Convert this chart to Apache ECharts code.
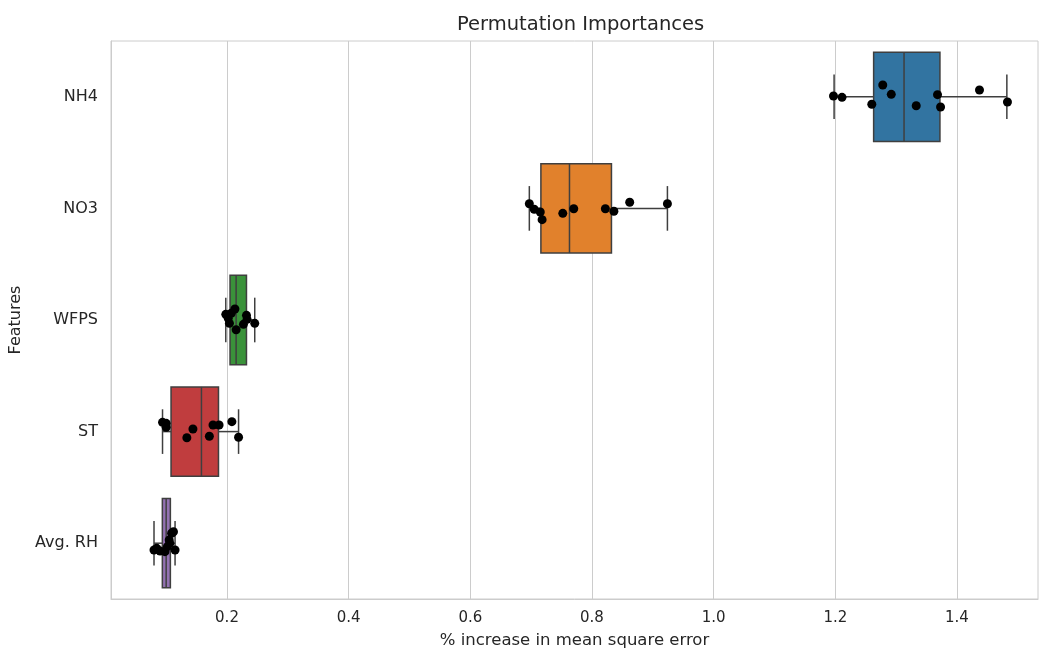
<!DOCTYPE html>
<html>
<head>
<meta charset="utf-8">
<script src="https://cdn.jsdelivr.net/npm/echarts@6/dist/echarts.min.js"></script>
<style>
	html, body { margin: 0; padding: 0; background: #ffffff; }
	#chart { width: 1039px; height: 651px; }
</style>
</head>
<body>
<div id="chart"></div>
<script>
	// 特征名称（自上而下）
	var features = ["NH4", "NO3", "WFPS", "ST", "Avg. RH"];

	// 箱线图统计值：[下须, Q1, 中位数, Q3, 上须]
	var boxNH4 = [1.198, 1.263, 1.313, 1.372, 1.482];
	var boxNO3 = [0.697, 0.716, 0.763, 0.832, 0.924];
	var boxWFPS = [0.198, 0.205, 0.215, 0.232, 0.2456];
	var boxST = [0.094, 0.108, 0.158, 0.186, 0.219];
	var boxRH = [0.080, 0.0937, 0.100, 0.1069, 0.1146];

	// 各次置换的重要性取值
	var ptsNH4 = [1.197, 1.211, 1.260, 1.278, 1.292, 1.333, 1.368, 1.373, 1.437, 1.483];
	var ptsNO3 = [0.697, 0.705, 0.715, 0.718, 0.752, 0.770, 0.822, 0.836, 0.862, 0.924];
	var ptsWFPS = [0.198, 0.202, 0.204, 0.207, 0.213, 0.215, 0.227, 0.232, 0.233, 0.2456];
	var ptsST = [0.094, 0.100, 0.100, 0.134, 0.144, 0.171, 0.177, 0.187, 0.208, 0.219];
	var ptsRH = [0.080, 0.0845, 0.090, 0.098, 0.102, 0.105, 0.106, 0.109, 0.112, 0.1146];

	// 散点的纵向抖动（类别单位）
	var jitNH4 = [-0.007, 0.005, 0.067, -0.106, -0.022, 0.080, -0.019, 0.091, -0.061, 0.047];
	var jitNO3 = [-0.042, 0.008, 0.032, 0.101, 0.044, 0.003, 0.003, 0.026, -0.055, -0.042];
	var jitWFPS = [-0.051, -0.015, 0.030, -0.060, -0.099, 0.087, 0.039, -0.042, -0.006, 0.030];
	var jitST = [-0.083, -0.074, -0.039, 0.055, -0.023, 0.042, -0.059, -0.059, -0.089, 0.051];
	var jitRH = [0.061, 0.046, 0.070, 0.076, 0.031, -0.029, 0.001, -0.089, -0.103, 0.061];

	var xTicks = [0.2, 0.4, 0.6, 0.8, 1.0, 1.2, 1.4];

	var boxColors = ["#3274a1", "#e1812c", "#3a923a", "#c03d3e", "#9372b2"];
	var edgeColor = "#3f3f3f";
	var textColor = "#262626";
	var gridColor = "#cccccc";

	var boxStats = [boxNH4, boxNO3, boxWFPS, boxST, boxRH];
	var points = [ptsNH4, ptsNO3, ptsWFPS, ptsST, ptsRH];
	var jitters = [jitNH4, jitNO3, jitWFPS, jitST, jitRH];

	var boxData = [];
	for(var i=0; i<boxStats.length; i++)
		boxData.push([i].concat(boxStats[i]));

	var pointData = [];
	for(var i=0; i<points.length; i++)
	{
		for(var j=0; j<points[i].length; j++)
			pointData.push([points[i][j], i + jitters[i][j]]);
	}

	var renderBox = function(params, api)
	{
		var idx = api.value(0);
		var lo = api.value(1), q1 = api.value(2), med = api.value(3), q3 = api.value(4), hi = api.value(5);
		var c = function(v, off) { return api.coord([v, idx + off]); };
		var lineStyle = { stroke: edgeColor, lineWidth: 1.5 };

		var a = c(q1, -0.4), b = c(q3, 0.4);
		var children = [];

		var line = function(p1, p2)
		{
			children.push({
				type: "line",
				shape: { x1: p1[0], y1: p1[1], x2: p2[0], y2: p2[1] },
				style: lineStyle
			});
		};

		line(c(lo, 0), c(q1, 0));
		line(c(q3, 0), c(hi, 0));
		line(c(lo, -0.2), c(lo, 0.2));
		line(c(hi, -0.2), c(hi, 0.2));

		children.push({
			type: "rect",
			shape: {
				x: Math.min(a[0], b[0]), y: Math.min(a[1], b[1]),
				width: Math.abs(b[0] - a[0]), height: Math.abs(b[1] - a[1])
			},
			style: { fill: boxColors[idx], stroke: edgeColor, lineWidth: 1.5 }
		});

		line(c(med, -0.4), c(med, 0.4));

		return { type: "group", children: children };
	};

	var chart = echarts.init(document.getElementById("chart"));

	chart.setOption({
		animation: false,
		backgroundColor: "#ffffff",
		textStyle: { fontFamily: "DejaVu Sans", color: textColor },
		title: {
			text: "Permutation Importances",
			left: 452,
			top: 10,
			textStyle: { fontFamily: "DejaVu Sans", fontSize: 19.5, fontWeight: "normal", color: textColor }
		},
		grid: {
			left: 111, right: 1, top: 41, bottom: 52,
			outerBoundsMode: "none",
			show: true, borderColor: gridColor, borderWidth: 1
		},
		xAxis: {
			type: "value",
			min: 0.0093,
			max: 1.5332,
			name: "% increase in mean square error",
			nameLocation: "middle",
			nameGap: 33,
			nameTextStyle: { fontSize: 16.5, color: textColor },
			axisLine: { show: true, onZero: false, lineStyle: { color: gridColor, width: 1 } },
			axisTick: { show: false, customValues: xTicks },
			axisLabel: {
				customValues: xTicks,
				margin: 12,
				fontSize: 15,
				color: textColor,
				formatter: function(v) { return v.toFixed(1); }
			},
			splitLine: { show: true, lineStyle: { color: gridColor, width: 1 } }
		},
		yAxis: [
			{
				type: "category",
				data: features,
				inverse: true,
				name: "Features",
				nameLocation: "middle",
				nameGap: 86,
				nameTextStyle: { fontSize: 16, color: textColor },
				axisLine: { show: true, onZero: false, lineStyle: { color: gridColor, width: 1 } },
				axisTick: { show: false },
				axisLabel: { margin: 13, fontSize: 16, color: textColor },
				splitLine: { show: false }
			},
			{
				type: "value",
				min: -0.5,
				max: 4.5,
				inverse: true,
				show: false,
				axisLine: { onZero: false },
				splitLine: { show: false }
			}
		],
		series: [
			{
				type: "custom",
				yAxisIndex: 1,
				renderItem: renderBox,
				data: boxData,
				encode: { x: [2, 3, 4, 5, 1], y: 0 },
				z: 2
			},
			{
				type: "scatter",
				yAxisIndex: 1,
				data: pointData,
				symbolSize: 9,
				itemStyle: { color: "#000000", opacity: 1 },
				z: 3
			}
		]
	});
</script>
</body>
</html>
